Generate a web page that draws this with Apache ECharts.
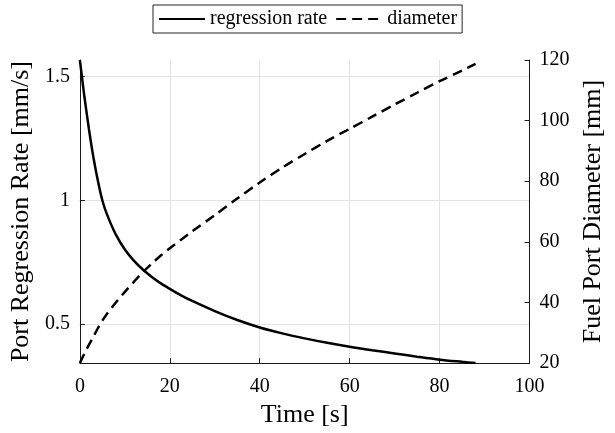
<!DOCTYPE html>
<html>
<head>
<meta charset="utf-8">
<script src="https://cdn.jsdelivr.net/npm/echarts@6/dist/echarts.min.js"></script>
<style>html,body{margin:0;padding:0;background:#fff}#c{width:615px;height:433px}</style>
</head>
<body>
<div id="c"></div>
<script>
// Time samples [s]
var timeS = [0, 1, 2, 3, 4, 5, 6, 8, 10, 12, 14, 16, 18, 20, 22.5, 25, 30, 35, 40, 45, 50, 55, 60, 65, 70, 75, 80, 85, 88];
// Port regression rate [mm/s]
var rateMmS = [1.567, 1.42, 1.29, 1.175, 1.08, 1.0, 0.945, 0.862, 0.802, 0.757, 0.721, 0.691, 0.665, 0.643, 0.617, 0.594, 0.553, 0.517, 0.487, 0.463, 0.443, 0.425, 0.409, 0.395, 0.382, 0.369, 0.357, 0.348, 0.343];
// Fuel port diameter [mm]
var diameterMm = [20, 23.2, 26, 28.7, 31.5, 34, 36.2, 40, 43.5, 46.8, 50, 52.8, 55.5, 57.9, 60.7, 63.5, 68.8, 74.3, 79.6, 84.5, 89, 93.3, 97.3, 101.3, 105.3, 109.2, 113, 116.5, 118.7];
var leftTicks = [0.5, 1, 1.5];
var seriesNames = ['regression rate', 'diameter'];

var FONT = 'Liberation Serif';
var rateData = timeS.map(function (t, i) { return [t, rateMmS[i]]; });
var diaData = timeS.map(function (t, i) { return [t, diameterMm[i]]; });

var chart = echarts.init(document.getElementById('c'), null, {renderer: 'canvas'});
chart.setOption({
  animation: false,
  backgroundColor: '#fff',
  textStyle: {fontFamily: FONT, color: '#000'},
  legend: {
    left: 153, top: 5,
    data: seriesNames,
    itemWidth: 46, itemHeight: 14, itemGap: 8,
    padding: [4, 5, 4, 5],
    borderColor: '#262626', borderWidth: 1,
    backgroundColor: '#fff',
    itemStyle: {opacity: 0},
    textStyle: {fontFamily: FONT, fontSize: 20, color: '#000'}
  },
  grid: {left: 79, right: 85.5, top: 60, bottom: 65.3, containLabel: false},
  xAxis: {
    type: 'value', min: 0, max: 100, interval: 20,
    name: 'Time [s]', nameLocation: 'middle', nameGap: 25,
    nameTextStyle: {fontFamily: FONT, fontSize: 26, color: '#000'},
    axisLine: {show: true, lineStyle: {color: '#1a1a1a', width: 1}},
    axisTick: {show: true, inside: true, length: 5, lineStyle: {color: '#1a1a1a'}},
    axisLabel: {fontFamily: FONT, fontSize: 20, color: '#000', margin: 14},
    splitLine: {show: true, lineStyle: {color: '#e3e3e3', width: 1}}
  },
  yAxis: [{
    type: 'value', min: 0.343, max: 1.5676, position: 'left',
    name: 'Port Regression Rate [mm/s]', nameLocation: 'middle', nameGap: 37,
    nameTextStyle: {fontFamily: FONT, fontSize: 26, color: '#000'},
    axisLine: {show: true, lineStyle: {color: '#1a1a1a', width: 1}},
    axisTick: {show: true, inside: true, length: 5, customValues: leftTicks, lineStyle: {color: '#1a1a1a'}},
    axisLabel: {fontFamily: FONT, fontSize: 20, color: '#000', margin: 10, customValues: leftTicks},
    splitLine: {show: true, lineStyle: {color: '#e3e3e3', width: 1}}
  }, {
    type: 'value', min: 20, max: 120, interval: 20, position: 'right',
    name: 'Fuel Port Diameter [mm]', nameLocation: 'middle', nameGap: 50,
    nameTextStyle: {fontFamily: FONT, fontSize: 26, color: '#000'},
    axisLine: {show: true, lineStyle: {color: '#1a1a1a', width: 1}},
    axisTick: {show: true, inside: true, length: 5, lineStyle: {color: '#1a1a1a'}},
    axisLabel: {fontFamily: FONT, fontSize: 20, color: '#000', margin: 10},
    splitLine: {show: false}
  }],
  series: [{
    name: seriesNames[0], type: 'line', yAxisIndex: 0,
    data: rateData, symbol: 'none', smooth: 0.3,
    lineStyle: {color: '#000', width: 2.5, type: 'solid'},
    itemStyle: {color: '#000'}
  }, {
    name: seriesNames[1], type: 'line', yAxisIndex: 1,
    data: diaData, symbol: 'none', smooth: 0.3,
    lineStyle: {color: '#000', width: 2.5, type: [10, 6]},
    itemStyle: {color: '#000'}
  }]
});
</script>
</body>
</html>
